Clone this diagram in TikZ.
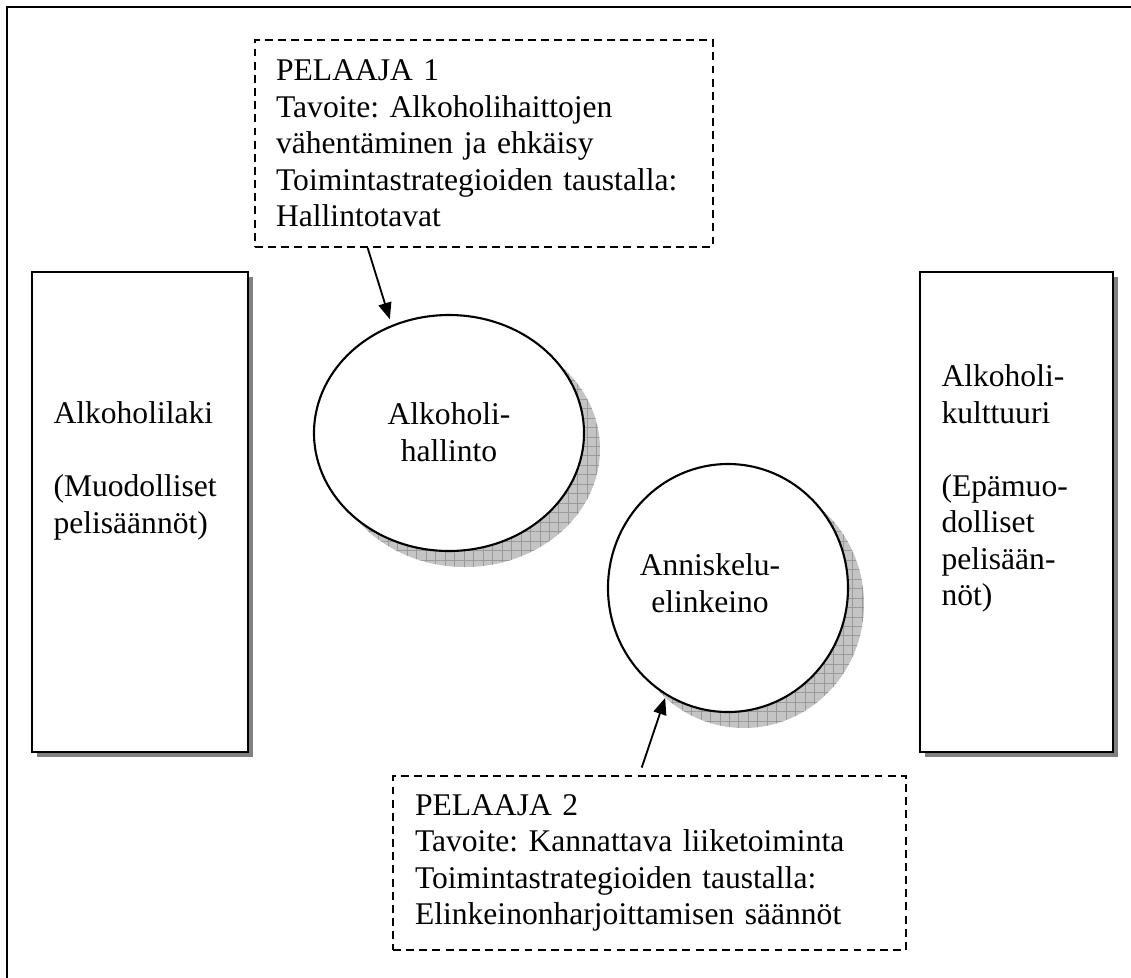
\documentclass[tikz,border=0pt]{standalone}
\usepackage{fontspec}
\setmainfont{Liberation Serif}
\frenchspacing
\usetikzlibrary{shapes.geometric,arrows.meta,calc,patterns.meta}
\definecolor{shadowgray}{HTML}{808080}
\definecolor{discshade}{HTML}{C4C4C4}
\definecolor{discgrid}{HTML}{9A9A9A}
\tikzset{
  frameline/.style={line width=0.8pt},
  solidbox/.style={rectangle, draw, line width=0.8pt, fill=white, inner sep=0pt},
  boxshade/.style={rectangle, fill=shadowgray, draw=none, inner sep=0pt},
  playerbox/.style={rectangle, draw, dash pattern=on 3pt off 2pt, line width=0.7pt,
    align=left, inner ysep=0pt, font=\fontsize{12}{13.9}\selectfont},
  disc/.style={ellipse, draw, line width=0.8pt, fill=white, inner sep=0pt},
  discshadefill/.style={ellipse, fill=discshade, draw=none, inner sep=0pt},
  discshadegrid/.style={ellipse, draw=none, inner sep=0pt,
    pattern={Hatch[angle=0,distance=3.6pt,line width=0.35pt]}, pattern color=discgrid},
  plaintext/.style={inner sep=0pt, font=\fontsize{12}{13.9}\selectfont},
  arr/.style={-{Triangle[length=6.3pt,width=5pt]}, line width=0.7pt},
}
\begin{document}
\begin{tikzpicture}[x=0.38pt,y=-0.38pt]
\useasboundingbox (0,0) rectangle (1131,977);
\clip (0,0) rectangle (1131,977);
% outer frame (only top and left visible)
\draw[frameline] (1160,7) -- (7,7) -- (7,1000);

% side boxes with shadows
\node[boxshade, minimum width=82.08pt, minimum height=182.4pt] (lawshade) at (145,517) {};
\node[solidbox, minimum width=82.08pt, minimum height=182.4pt] (law) at (140,512) {};
\node[boxshade, minimum width=73.34pt, minimum height=182.4pt] (cultshade) at (1021.5,517) {};
\node[solidbox, minimum width=73.34pt, minimum height=182.4pt] (cult) at (1016.5,512) {};
\node[plaintext, align=left, anchor=north west] (lawtext) at (53,401)
  {Alkoholilaki\\[13.9pt](Muodolliset\\pelisäännöt)};
\node[plaintext, align=left, anchor=north west] (culttext) at (941,364)
  {Alkoholi-\\kulttuuri\\[13.9pt](Epämuo-\\dolliset\\pelisään-\\nöt)};

% ellipses with hatched shadows
\node[discshadefill, minimum width=102.6pt, minimum height=89.68pt] (e1sf) at (465,449) {};
\node[discshadegrid, minimum width=102.6pt, minimum height=89.68pt] (e1sg) at (465,449) {};
\node[disc, minimum width=102.6pt, minimum height=89.68pt] (e1) at (449,433) {};
\node[plaintext, align=center] (e1text) at (449,432) {Alkoholi-\\hallinto};

\node[discshadefill, minimum width=91.2pt, minimum height=94.24pt] (e2sf) at (744,604) {};
\node[discshadegrid, minimum width=91.2pt, minimum height=94.24pt] (e2sg) at (744,604) {};
\node[disc, minimum width=91.2pt, minimum height=94.24pt] (e2) at (728,588) {};
\node[plaintext, align=center] (e2text) at (710,583) {Anniskelu-\\elinkeino};

% player boxes
\node[playerbox, minimum width=174.04pt, minimum height=78.66pt, text width=158pt, inner xsep=8.02pt] (p1) at (484,143.5)
  {PELAAJA 1\\Tavoite: Alkoholihaittojen\\vähentäminen ja ehkäisy\\Toimintastrategioiden taustalla:\\Hallintotavat};
\node[playerbox, minimum width=194.94pt, minimum height=66.12pt, text width=178.2pt, inner xsep=8.37pt] (p2) at (649.5,863)
  {PELAAJA 2\\Tavoite: Kannattava liiketoiminta\\Toimintastrategioiden taustalla:\\Elinkeinonharjoittamisen säännöt};

% arrows
\draw[arr, shorten >=2.3pt] ($(p1.south west)!0.247!(p1.south east)$) -- (e1.118);
\draw[arr, shorten <=3pt, shorten >=1pt] ($(p2.north west)!0.48!(p2.north east)$) -- (e2.240);
\end{tikzpicture}
\end{document}
